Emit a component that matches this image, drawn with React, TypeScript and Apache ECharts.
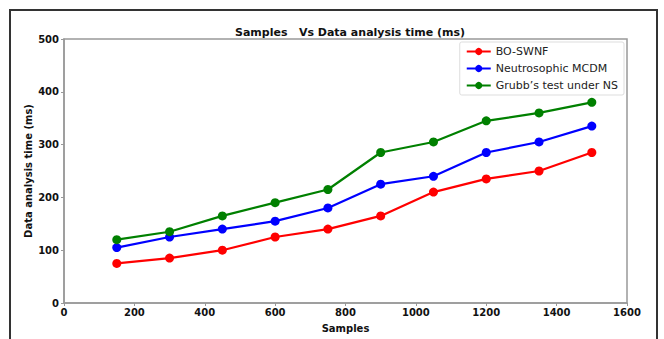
import React, { useEffect, useRef } from "react";
import * as echarts from "echarts";

const samples = [150, 300, 450, 600, 750, 900, 1050, 1200, 1350, 1500];
const boSwnf = [75, 85, 100, 125, 140, 165, 210, 235, 250, 285];
const neutroMcdm = [105, 125, 140, 155, 180, 225, 240, 285, 305, 335];
const grubbs = [120, 135, 165, 190, 215, 285, 305, 345, 360, 380];
const seriesNames = ["BO-SWNF", "Neutrosophic MCDM", "Grubb\u2019s test under NS"];
const seriesColors = ["#ff0000", "#0000ff", "#008000"];

const FONT = "DejaVu Sans";

export default function App() {
  const ref = useRef<HTMLDivElement>(null);
  useEffect(() => {
    if (!ref.current) return;
    const chart = echarts.init(ref.current, null, { renderer: "svg" });
    const datas = [boSwnf, neutroMcdm, grubbs];
    chart.setOption({
      animation: false,
      backgroundColor: "#ffffff",
      title: {
        text: "Samples   Vs Data analysis time (ms)",
        left: 345,
        textAlign: "center",
        top: 22,
        textStyle: { fontFamily: FONT, fontSize: 11, fontWeight: "bold", color: "#111" },
      },
      legend: {
        right: 40,
        top: 42,
        orient: "vertical",
        itemWidth: 24,
        itemHeight: 9,
        itemGap: 6,
        padding: [4, 6, 4, 6],
        borderColor: "#dddddd",
        borderWidth: 1,
        borderRadius: 2,
        backgroundColor: "#ffffff",
        textStyle: { fontFamily: FONT, fontSize: 11, color: "#222" },
        data: seriesNames,
      },
      grid: { left: 64, right: 37, top: 39, bottom: 36 },
      xAxis: {
        type: "value",
        min: 0,
        max: 1600,
        interval: 200,
        name: "Samples",
        nameLocation: "middle",
        nameGap: 20,
        nameMoveOverlap: false,
        nameTextStyle: { fontFamily: FONT, fontSize: 10, fontWeight: "bold", color: "#111" },
        axisLine: { show: true, lineStyle: { color: "#999", width: 1.5 } },
        axisTick: { show: true, length: 3, lineStyle: { color: "#999" } },
        axisLabel: {
          fontFamily: FONT,
          fontSize: 10,
          fontWeight: "bold",
          color: "#111",
          margin: 4,
          formatter: (v: number) => String(v),
        },
        splitLine: { show: false },
      },
      yAxis: {
        type: "value",
        min: 0,
        max: 500,
        interval: 100,
        name: "Data analysis time (ms)",
        nameLocation: "middle",
        nameGap: 31,
        nameMoveOverlap: false,
        nameTextStyle: { fontFamily: FONT, fontSize: 10, fontWeight: "bold", color: "#111" },
        axisLine: { show: true, lineStyle: { color: "#999", width: 1.5 } },
        axisTick: { show: true, length: 3, lineStyle: { color: "#999" } },
        axisLabel: {
          fontFamily: FONT,
          fontSize: 10,
          fontWeight: "bold",
          color: "#111",
          margin: 5,
          formatter: (v: number) => String(v),
        },
        splitLine: { show: false },
      },
      graphic: [
        {
          type: "rect",
          shape: { x: 64, y: 39, width: 563, height: 264 },
          style: { fill: "none", stroke: "#999", lineWidth: 1.5 },
          silent: true,
          z: 0,
        },
        {
          type: "rect",
          shape: { x: 10, y: 10, width: 647, height: 340 },
          style: { fill: "none", stroke: "#333", lineWidth: 2 },
          silent: true,
        },
      ],
      series: datas.map((d, i) => ({
        name: seriesNames[i],
        type: "line",
        data: samples.map((x, j) => [x, d[j]]),
        symbol: "circle",
        symbolSize: 9,
        lineStyle: { color: seriesColors[i], width: 2.2 },
        itemStyle: { color: seriesColors[i] },
      })),
    });
    return () => chart.dispose();
  }, []);
  return (
    <div
      ref={ref}
      style={{ position: "absolute", left: 0, top: 0, width: 664, height: 339 }}
    />
  );
}
